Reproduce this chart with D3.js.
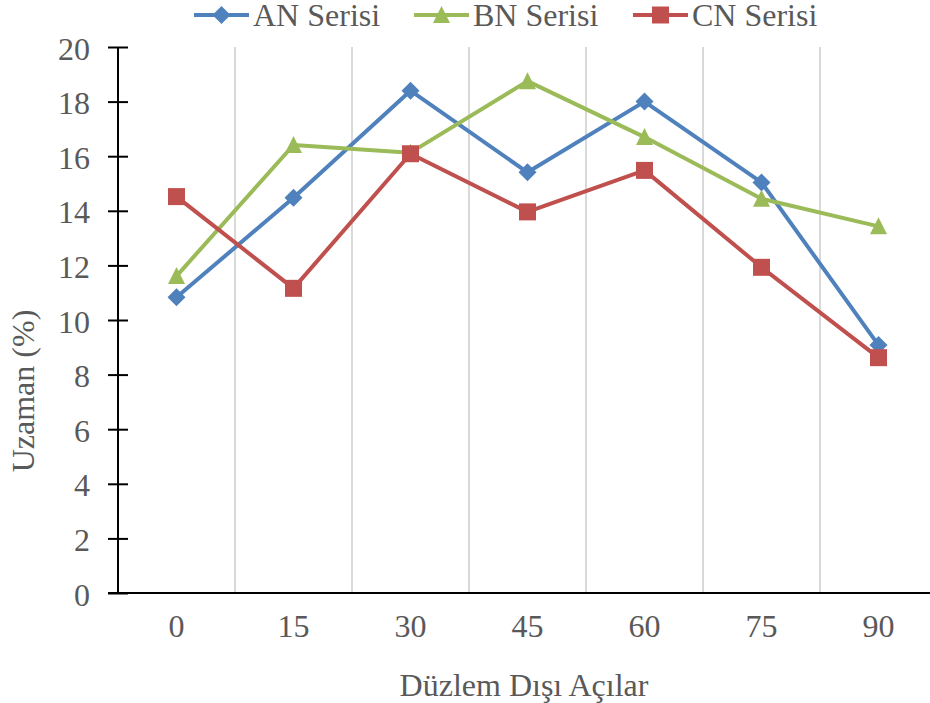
<!DOCTYPE html>
<html>
<head>
<meta charset="utf-8">
<script src="https://cdn.jsdelivr.net/npm/d3@7"></script>
<style>
  html, body { margin: 0; padding: 0; background: #fff; }
  svg { display: block; }
  svg text { font-family: "Liberation Serif", "Times New Roman", serif; fill: #595959; }
</style>
</head>
<body>
<svg id="chart" width="930" height="703"></svg>
<script>
// Out-of-plane angles (categories)
const angles = ["0", "15", "30", "45", "60", "75", "90"];
// Elongation (%) per series
const anValues = [10.83, 14.48, 18.40, 15.41, 18.00, 15.04, 9.08];
const bnValues = [11.61, 16.41, 16.13, 18.75, 16.70, 14.44, 13.43];
const cnValues = [14.52, 11.16, 16.09, 13.96, 15.48, 11.93, 8.62];
const yTicks = [0, 2, 4, 6, 8, 10, 12, 14, 16, 18, 20];

const series = [
  { name: "AN Serisi", values: anValues, color: "#4F81BD", symbol: "diamond" },
  { name: "BN Serisi", values: bnValues, color: "#9BBB59", symbol: "triangle" },
  { name: "CN Serisi", values: cnValues, color: "#C0504D", symbol: "square" }
];

const svg = d3.select("#chart");
const plotLeft = 118, plotRight = 937, plotTop = 47, plotBottom = 593;
const fontFamily = "'Liberation Serif', 'Times New Roman', serif";

const x = d3.scaleBand().domain(angles).range([plotLeft, plotRight]).paddingInner(0).paddingOuter(0);
const y = d3.scaleLinear().domain([0, 20]).range([plotBottom, plotTop]);
const cx = d => x(d) + x.bandwidth() / 2;

// vertical gridlines at category boundaries
svg.append("g").selectAll("line")
  .data(angles.slice(1))
  .join("line")
  .attr("x1", d => x(d)).attr("x2", d => x(d))
  .attr("y1", plotTop).attr("y2", plotBottom)
  .attr("stroke", "#d9d9d9").attr("stroke-width", 2);

// y axis: ticks cross the axis line
const yAxis = svg.append("g")
  .attr("transform", `translate(${plotLeft},0)`)
  .call(d3.axisLeft(y).tickValues(yTicks).tickSize(10).tickPadding(18));
yAxis.select(".domain").attr("stroke", "#000").attr("stroke-width", 2)
  .attr("d", `M0,${plotTop}V${plotBottom}`);
yAxis.selectAll(".tick line")
  .attr("x1", -10).attr("x2", 10)
  .attr("stroke", "#000").attr("stroke-width", 2);
yAxis.selectAll(".tick text")
  .attr("dy", "0.38em")
  .style("font-family", fontFamily)
  .style("font-size", "32px").style("fill", "#595959");

// x axis
const xAxis = svg.append("g")
  .attr("transform", `translate(0,${plotBottom})`)
  .call(d3.axisBottom(x).tickSize(0));
xAxis.select(".domain").remove();
xAxis.append("line")
  .attr("x1", plotLeft - 10).attr("x2", 930)
  .attr("y1", 0).attr("y2", 0)
  .attr("stroke", "#000").attr("stroke-width", 2);
xAxis.selectAll(".tick text")
  .attr("y", 44).attr("dy", null)
  .style("font-family", fontFamily)
  .style("font-size", "32px").style("fill", "#595959");

// axis titles
svg.append("text")
  .attr("x", 524).attr("y", 696)
  .attr("text-anchor", "middle")
  .style("font-size", "32px")
  .text("Düzlem Dışı Açılar");
svg.append("text")
  .attr("transform", "translate(34,391) rotate(-90)")
  .attr("text-anchor", "middle")
  .style("font-size", "32px")
  .text("Uzaman (%)");

// marker shapes: diamond is a square turned 45°, triangle is slightly taller than equilateral
const markerPath = {
  diamond: "M0,-9L9,0L0,9L-9,0Z",
  triangle: "M0,-9L8.5,8L-8.5,8Z",
  square: "M-8.5,-8.5H8.5V8.5H-8.5Z"
};

const line = d3.line().x((v, i) => cx(angles[i])).y(v => y(v));

series.forEach(s => {
  svg.append("path")
    .datum(s.values)
    .attr("d", line)
    .attr("fill", "none")
    .attr("stroke", s.color)
    .attr("stroke-width", 4)
    .attr("stroke-linejoin", "round");
  svg.append("g").selectAll("path")
    .data(s.values)
    .join("path")
    .attr("transform", (v, i) => `translate(${cx(angles[i])},${y(v)})`)
    .attr("d", markerPath[s.symbol])
    .attr("fill", s.color);
});

// legend
const legendX = [194, 414, 633];
series.forEach((s, i) => {
  const g = svg.append("g").attr("transform", `translate(${legendX[i]},15)`);
  g.append("line").attr("x1", 0).attr("x2", 55).attr("y1", 0).attr("y2", 0)
    .attr("stroke", s.color).attr("stroke-width", 4);
  g.append("path")
    .attr("transform", "translate(27.5,0)")
    .attr("d", markerPath[s.symbol])
    .attr("fill", s.color);
  g.append("text")
    .attr("x", 59).attr("y", 11)
    .style("font-size", "32px")
    .text(s.name);
});
</script>
</body>
</html>
